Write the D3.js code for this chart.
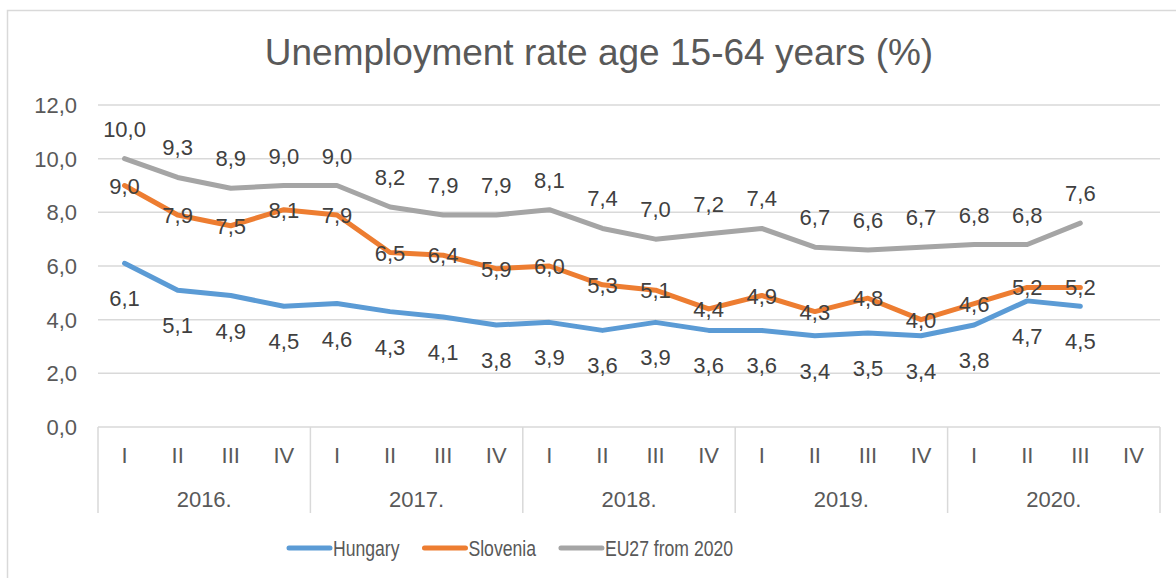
<!DOCTYPE html>
<html>
<head>
<meta charset="utf-8">
<script src="https://cdn.jsdelivr.net/npm/d3@7"></script>
<style>
  html, body { margin: 0; padding: 0; background: #fff; }
  svg { display: block; font-family: "Liberation Sans", Arial, sans-serif; }
</style>
</head>
<body>
<svg id="chart" width="1176" height="578"></svg>
<script>
// Quarterly unemployment rate, age 15-64 (%)
const years = ["2016.", "2017.", "2018.", "2019.", "2020."];
const quarters = ["I", "II", "III", "IV"];
const hungary  = [6.1, 5.1, 4.9, 4.5, 4.6, 4.3, 4.1, 3.8, 3.9, 3.6, 3.9, 3.6, 3.6, 3.4, 3.5, 3.4, 3.8, 4.7, 4.5, null];
const slovenia = [9.0, 7.9, 7.5, 8.1, 7.9, 6.5, 6.4, 5.9, 6.0, 5.3, 5.1, 4.4, 4.9, 4.3, 4.8, 4.0, 4.6, 5.2, 5.2, null];
const eu27     = [10.0, 9.3, 8.9, 9.0, 9.0, 8.2, 7.9, 7.9, 8.1, 7.4, 7.0, 7.2, 7.4, 6.7, 6.6, 6.7, 6.8, 6.8, 7.6, null];
const yTicks = [0, 2, 4, 6, 8, 10, 12];

const seriesList = [
  { name: "Hungary", values: hungary, color: "#5b9bd5", labelPos: "below" },
  { name: "Slovenia", values: slovenia, color: "#ed7d31", labelPos: "center" },
  { name: "EU27 from 2020", values: eu27, color: "#a5a5a5", labelPos: "above" }
];

const svg = d3.select("#chart");
const W = 1176, H = 578;
const plot = { left: 98, right: 1160, top: 105, bottom: 427 };

const fmt = d3.formatLocale({ decimal: ",", thousands: " ", grouping: [3], currency: ["", ""] }).format(".1f");

// Periods: one key per year/quarter
const periods = [];
years.forEach(y => quarters.forEach(q => periods.push({ key: y + q, year: y, q })));

const x = d3.scaleBand().domain(periods.map(p => p.key)).range([plot.left, plot.right]).padding(0);
const xYear = d3.scaleBand().domain(years).range([plot.left, plot.right]).padding(0);
const y = d3.scaleLinear().domain([0, 12]).range([plot.bottom, plot.top]);
const cx = k => x(k) + x.bandwidth() / 2;

// Chart border
svg.append("rect")
  .attr("x", 7.5).attr("y", 10.5).attr("width", W + 10).attr("height", H + 10)
  .attr("fill", "#fff").attr("stroke", "#d9d9d9").attr("stroke-width", 1.5);

// Title
svg.append("text")
  .attr("x", 599).attr("y", 65)
  .attr("text-anchor", "middle")
  .attr("font-size", 37).attr("fill", "#595959")
  .text("Unemployment rate age 15-64 years (%)");

// Horizontal gridlines and value axis labels
const yAxis = svg.append("g");
yAxis.selectAll("line").data(yTicks).join("line")
  .attr("x1", plot.left).attr("x2", plot.right)
  .attr("y1", d => y(d)).attr("y2", d => y(d))
  .attr("stroke", "#d9d9d9").attr("stroke-width", 1.5);
yAxis.selectAll("text").data(yTicks).join("text")
  .attr("x", 77).attr("y", d => y(d) + 8)
  .attr("text-anchor", "end")
  .attr("font-size", 22).attr("fill", "#595959")
  .text(d => fmt(d));

// Category axis: quarter labels, year labels and separators
const boxBottom = 513;
const xAxis = svg.append("g");
const bounds = years.map(yr => xYear(yr)).concat([plot.right]);
xAxis.selectAll("line.sep").data(bounds).join("line")
  .attr("class", "sep")
  .attr("x1", d => d).attr("x2", d => d)
  .attr("y1", plot.bottom).attr("y2", boxBottom)
  .attr("stroke", "#d9d9d9").attr("stroke-width", 1.5);
xAxis.selectAll("text.q").data(periods).join("text")
  .attr("class", "q")
  .attr("x", d => cx(d.key)).attr("y", 463)
  .attr("text-anchor", "middle")
  .attr("font-size", 22).attr("fill", "#595959")
  .text(d => d.q);
xAxis.selectAll("text.yr").data(years).join("text")
  .attr("class", "yr")
  .attr("x", d => xYear(d) + xYear.bandwidth() / 2).attr("y", 507)
  .attr("text-anchor", "middle")
  .attr("font-size", 22).attr("fill", "#595959")
  .text(d => d);

// Series lines
const line = d3.line()
  .defined(d => d.v != null)
  .x(d => cx(d.key))
  .y(d => y(d.v));

const seriesData = seriesList.map(s => ({
  ...s,
  points: periods.map((p, i) => ({ key: p.key, v: s.values[i] }))
}));

svg.append("g").selectAll("path").data(seriesData).join("path")
  .attr("d", s => line(s.points))
  .attr("fill", "none")
  .attr("stroke", s => s.color)
  .attr("stroke-width", 5)
  .attr("stroke-linejoin", "round")
  .attr("stroke-linecap", "round");

// Data labels
const labelOffset = { above: -22, center: 8, below: 43 };
const labels = svg.append("g");
seriesData.forEach(s => {
  labels.selectAll(null).data(s.points.filter(d => d.v != null)).join("text")
    .attr("x", d => cx(d.key))
    .attr("y", d => y(d.v) + labelOffset[s.labelPos])
    .attr("text-anchor", "middle")
    .attr("font-size", 22).attr("fill", "#404040")
    .text(d => fmt(d.v));
});

// Legend (condensed text)
const squeeze = 0.8;
const legend = svg.append("g").attr("transform", "translate(289,548)");
let lx = 0;
seriesList.forEach(s => {
  const g = legend.append("g").attr("transform", `translate(${lx},0)`);
  g.append("line")
    .attr("x1", 0).attr("x2", 41).attr("y1", 0).attr("y2", 0)
    .attr("stroke", s.color).attr("stroke-width", 5).attr("stroke-linecap", "round");
  const t = g.append("text")
    .attr("transform", `translate(44,8) scale(${squeeze},1)`)
    .attr("font-size", 22).attr("fill", "#595959")
    .text(s.name);
  lx += 44 + t.node().getComputedTextLength() * squeeze + 25;
});
</script>
</body>
</html>
